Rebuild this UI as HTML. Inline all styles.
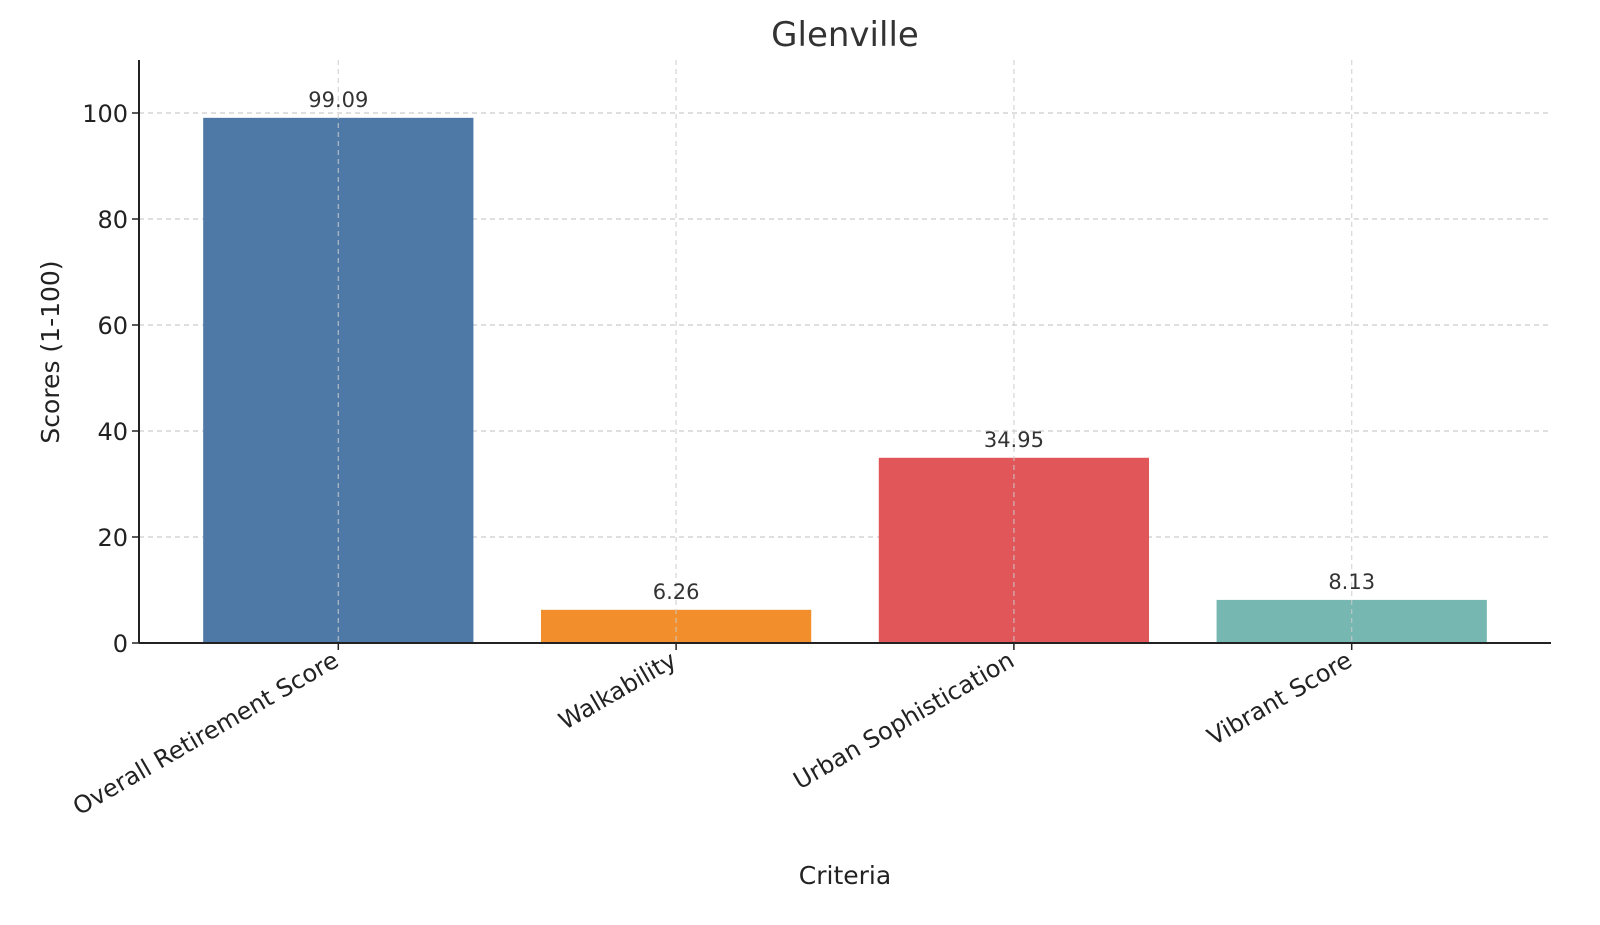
<!DOCTYPE html>
<html><head><meta charset="utf-8"><style>
body{margin:0;background:#fff;}
svg{display:block;font-family:"DejaVu Sans","Liberation Sans",sans-serif;}
</style></head><body>
<svg id="chart" width="1600" height="925" viewBox="0 0 1600 925">
<text x="845" y="46" font-size="34" fill="#333" text-anchor="middle">Glenville</text>
<g id="grid"></g>
<g id="bars"></g>
<g id="axes"></g>
<text x="845" y="884" font-size="25" fill="#222" text-anchor="middle">Criteria</text>
<text transform="translate(59,352) rotate(-90)" font-size="25" fill="#222" text-anchor="middle">Scores (1-100)</text>
</svg>
<script>
const categories=["Overall Retirement Score","Walkability","Urban Sophistication","Vibrant Score"];
const values=[99.09,6.26,34.95,8.13];
const valueLabels=["99.09","6.26","34.95","8.13"];
const colors=["#4e79a7","#f28e2b","#e15759","#76b7b2"];
const yTicks=[0,20,40,60,80,100];
const NS="http://www.w3.org/2000/svg";
const L=139,R=1551,T=60,B=643,yMax=110;
const y=v=>B-(v/yMax)*(B-T);
const step=(R-L)/(categories.length-1+1.18);
const x=i=>L+(i+0.59)*step;
const bw=step*0.8;
function mk(tag,attrs,parent){const e=document.createElementNS(NS,tag);for(const k in attrs)e.setAttribute(k,attrs[k]);parent.appendChild(e);return e;}
const grid=document.getElementById('grid'),bars=document.getElementById('bars'),axes=document.getElementById('axes');
yTicks.forEach(t=>{
 const g=mk('line',{x1:L,x2:R,y1:y(t),y2:y(t),stroke:'#ccc','stroke-dasharray':'5,4','stroke-width':1.2},grid);
 
 
 const tk=mk('line',{x1:L-7,x2:L,y1:y(t),y2:y(t),stroke:'#222','stroke-width':1.5},axes);
 
 
 const lb=mk('text',{x:L-11,y:y(t)+9,'font-size':24,fill:'#222','text-anchor':'end'},axes);
 lb.textContent=t;
 
 
});
categories.forEach((c,i)=>{
 const r=mk('rect',{x:x(i)-bw/2,y:y(values[i]),width:bw,height:B-y(values[i]),fill:colors[i]},bars);
 
 
 const g=mk('line',{x1:x(i),x2:x(i),y1:T,y2:B,stroke:'#ccc','stroke-dasharray':'5,4','stroke-width':1.2,opacity:0.8},bars);
 
 
 const v=mk('text',{x:x(i),y:y(values[i])-11,'font-size':21,fill:'#333','text-anchor':'middle'},bars);
 v.textContent=valueLabels[i];
 
 
 const tk=mk('line',{x1:x(i),x2:x(i),y1:B,y2:B+7,stroke:'#222','stroke-width':1.5},axes);
 
 
 const lb=mk('text',{transform:`translate(${x(i)+2},${B+22}) rotate(-30)`,'font-size':24,fill:'#222','text-anchor':'end'},axes);
 lb.textContent=c;
 
 
});
const ax=mk('line',{x1:L,x2:L,y1:T,y2:B,stroke:'#222','stroke-width':2},axes);


const bx=mk('line',{x1:L,x2:R,y1:B,y2:B,stroke:'#222','stroke-width':2},axes);


</script>
</body></html>
